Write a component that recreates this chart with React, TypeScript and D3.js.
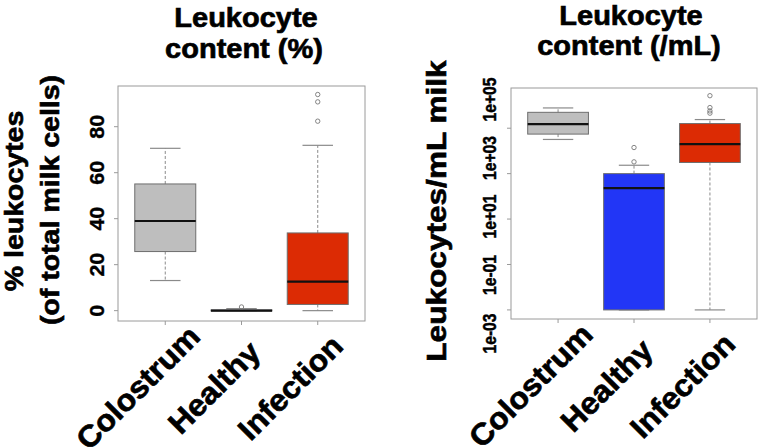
import React from 'react';
import * as d3 from 'd3';

const categories = ['Colostrum', 'Healthy', 'Infection'];
const boxColors = ['#bebebe', '#2236f6', '#dc2b04'];

// [whisker low, Q1, median, Q3, whisker high]
const pctColostrum = [13.1, 25.7, 39.0, 55.1, 70.6];
const pctHealthy = [0, 0, 0, 0.3, 0.9];
const pctInfection = [0, 2.7, 12.6, 33.8, 71.9];
const pctOutColostrum: number[] = [];
const pctOutHealthy = [1.6];
const pctOutInfection = [82.4, 90.8, 94.0];

const cntColostrum = [3.2e4, 5.5e4, 1.5e5, 5.0e5, 7.8e5];
const cntHealthy = [1e-3, 1e-3, 230, 1000, 2340];
const cntInfection = [1e-3, 3100, 2.0e4, 1.6e5, 2.4e5];
const cntOutColostrum: number[] = [];
const cntOutHealthy = [3300, 14100];
const cntOutInfection = [4.6e5, 5.75e5, 8.1e5, 2.7e6];

const pctTicks = [0, 20, 40, 60, 80];
const cntTicks = [1e-3, 1e-1, 1e1, 1e3, 1e5];
const cntTickLabels = ['1e-03', '1e-01', '1e+01', '1e+03', '1e+05'];

const FONT = 'Liberation Sans, Arial, Helvetica, sans-serif';
const FRAME = '#9a9a9a';

type Scale = (v: number) => number;

function Boxes({ stats, outs, x, y }: { stats: number[][]; outs: number[][]; x: d3.ScaleLinear<number, number>; y: Scale }) {
  const half = x(1.4) - x(1);
  const capHalf = half / 2;
  return (
    <g>
      {stats.map((s, i) => {
        const cx = x(i + 1);
        const [lo, q1, med, q3, hi] = s;
        return (
          <g key={i}>
            <line x1={cx} x2={cx} y1={y(q3)} y2={y(hi)} stroke="#8a8a8a" strokeDasharray="3,2" strokeWidth={1} />
            <line x1={cx} x2={cx} y1={y(q1)} y2={y(lo)} stroke="#8a8a8a" strokeDasharray="3,2" strokeWidth={1} />
            <line x1={cx - capHalf} x2={cx + capHalf} y1={y(hi)} y2={y(hi)} stroke="#8a8a8a" strokeWidth={1.2} />
            <line x1={cx - capHalf} x2={cx + capHalf} y1={y(lo)} y2={y(lo)} stroke="#8a8a8a" strokeWidth={1.2} />
            <rect x={cx - half} width={half * 2} y={y(q3)} height={Math.max(1, y(q1) - y(q3))} fill={boxColors[i]} stroke="#6e6e6e" strokeWidth={1} />
            <line x1={cx - half} x2={cx + half} y1={y(med)} y2={y(med)} stroke="#111" strokeWidth={2.2} />
            {outs[i].map((o, j) => (
              <circle key={j} cx={cx} cy={y(o)} r={2.2} fill="none" stroke="#777" strokeWidth={0.9} />
            ))}
          </g>
        );
      })}
    </g>
  );
}

const boldText = { fontFamily: FONT, fontWeight: 'bold' as const, fill: '#000', stroke: '#000', strokeWidth: 0.7 };

function XLabels({ x, axisY }: { x: d3.ScaleLinear<number, number>; axisY: number }) {
  return (
    <g>
      {categories.map((c, i) => {
        const tx = x(i + 1);
        return (
          <g key={c}>
            <line x1={tx} x2={tx} y1={axisY} y2={axisY + 4} stroke={FRAME} />
            <text
              transform={`translate(${tx - 20},${axisY + 74}) rotate(-45) scale(1,0.95)`}
              textAnchor="middle"
              fontSize={32}
              {...boldText}
            >
              {c}
            </text>
          </g>
        );
      })}
    </g>
  );
}

export default function App() {
  // Left panel
  const L = { x0: 118, x1: 365, y0: 86, y1: 321 };
  const xL = d3.scaleLinear().domain([0.38, 3.62]).range([L.x0, L.x1]);
  const yL = d3.scaleLinear().domain([-4.5, 97.7]).range([L.y1, L.y0]);

  // Right panel
  const R = { x0: 511, x1: 757, y0: 88, y1: 319 };
  const xR = d3.scaleLinear().domain([0.38, 3.62]).range([R.x0, R.x1]);
  const yR = d3.scaleLog().domain([Math.pow(10, -3.4), Math.pow(10, 6.77)]).range([R.y1, R.y0]);
  const yRLabel = d3.scaleLog().domain([1e-3, 1e5]).range([333.5, 99.5]);

  return (
    <svg width={760} height={447} style={{ position: 'absolute', left: 0, top: 0, background: '#fff' }}>
      <rect x={0} y={0} width={760} height={447} fill="#fff" />

      <g textAnchor="middle" {...boldText}>
        <text transform={`translate(246,27) scale(1,0.95)`} fontSize={29}>Leukocyte</text>
        <text transform={`translate(244,58) scale(1,0.95)`} fontSize={29}>content (%)</text>
        <text transform={`translate(631,25) scale(1,0.95)`} fontSize={29}>Leukocyte</text>
        <text transform={`translate(629,55) scale(1,0.95)`} fontSize={29}>content (/mL)</text>

        <text transform={`translate(22.5,201) rotate(-90) scale(1,0.9)`} fontSize={28.5}>% leukocytes</text>
        <text transform={`translate(58.5,200) rotate(-90) scale(1,0.9)`} fontSize={28.5}>(of total milk cells)</text>
        <text transform={`translate(446,211) rotate(-90) scale(1,0.88)`} fontSize={31.6}>Leukocytes/mL milk</text>
      </g>

      {/* Left panel */}
      <rect x={L.x0} y={L.y0} width={L.x1 - L.x0} height={L.y1 - L.y0} fill="none" stroke={FRAME} strokeWidth={1} />
      {pctTicks.map((t) => (
        <g key={t}>
          <line x1={L.x0 - 4} x2={L.x0} y1={yL(t)} y2={yL(t)} stroke={FRAME} />
          <text
            transform={`translate(103.5,${yL(t)}) rotate(-90) scale(1,0.9)`}
            textAnchor="middle"
            fontSize={21.5}
            {...boldText}
            strokeWidth={0.4}
          >
            {t}
          </text>
        </g>
      ))}
      <Boxes stats={[pctColostrum, pctHealthy, pctInfection]} outs={[pctOutColostrum, pctOutHealthy, pctOutInfection]} x={xL} y={yL} />
      <XLabels x={xL} axisY={L.y1} />

      {/* Right panel */}
      <rect x={R.x0} y={R.y0} width={R.x1 - R.x0} height={R.y1 - R.y0} fill="none" stroke={FRAME} strokeWidth={1} />
      {cntTicks.map((t, i) => (
        <g key={t}>
          <line x1={R.x0 - 4} x2={R.x0} y1={yR(t)} y2={yR(t)} stroke={FRAME} />
          <text
            transform={`translate(495.5,${yRLabel(t)}) rotate(-90) scale(1,1.18)`}
            textAnchor="middle"
            fontSize={15.7}
            {...boldText}
            strokeWidth={0.4}
          >
            {cntTickLabels[i]}
          </text>
        </g>
      ))}
      <Boxes stats={[cntColostrum, cntHealthy, cntInfection]} outs={[cntOutColostrum, cntOutHealthy, cntOutInfection]} x={xR} y={yR} />
      <XLabels x={xR} axisY={R.y1} />
    </svg>
  );
}
